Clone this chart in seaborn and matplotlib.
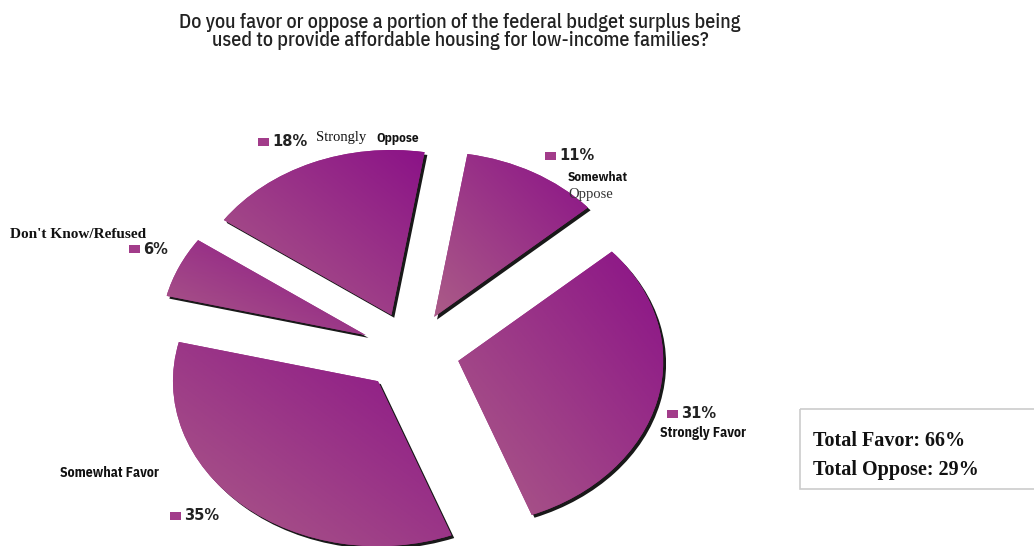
import numpy as np
import matplotlib
matplotlib.use("Agg")
import matplotlib.pyplot as plt
import matplotlib.patheffects as pe
from matplotlib.patches import Rectangle
import seaborn as sns

# ---- data ----
categories = ["Somewhat Oppose", "Strongly Favor", "Somewhat Favor",
              "Don't Know/Refused", "Strongly Oppose"]
values = [11, 31, 35, 6, 18]
favor_cats = ["Strongly Favor", "Somewhat Favor"]
oppose_cats = ["Strongly Oppose", "Somewhat Oppose"]
title = ("Do you favor or oppose a portion of the federal budget surplus being\n"
         "used to provide affordable housing for low-income families?")

sns.set_theme(style="white")
plt.rcParams['font.family'] = ['DejaVu Sans']

COND = ['IBM Plex Sans Condensed', 'DejaVu Sans']
SERIF = ['Liberation Serif', 'DejaVu Serif']

W, H = 1034, 546
fig = plt.figure(figsize=(W / 100, H / 100), dpi=100)
fig.patch.set_facecolor('white')

# pie geometry (pixels)
cx, cy = 410.5, 351.5
rx, ry = 205, 165
ax = fig.add_axes([0, 0, 1, 1])
wedges, _ = ax.pie(values, explode=[0.24] * len(values), startangle=80.7,
                   counterclock=False, radius=1,
                   wedgeprops=dict(linewidth=0, facecolor='#9a2f84'))
ax.set_aspect('auto')
xlim = (-cx / rx, (W - cx) / rx)
ylim = (-(H - cy) / ry, cy / ry)

cmap = sns.blend_palette(['#ab5c87', '#8b1287'], as_cmap=True)
g = np.linspace(0, 1, 200)
G = (g[None, :] + g[:, None]) / 2
for w in wedges:
    w.set_path_effects([pe.SimplePatchShadow(offset=(2.0, -2.0), shadow_rgbFace='black', alpha=0.9),
                        pe.Normal()])
    bb = w.get_path().get_extents()
    im = ax.imshow(G, cmap=cmap, extent=(bb.x0, bb.x1, bb.y0, bb.y1), origin='lower',
                   aspect='auto', zorder=3, interpolation='bilinear')
    im.set_clip_path(w)
ax.set_xlim(*xlim)
ax.set_ylim(*ylim)
ax.axis('off')

# ---- overlay for text (pixel coords) ----
ov = fig.add_axes([0, 0, 1, 1], zorder=5)
ov.set_xlim(0, W)
ov.set_ylim(H, 0)
ov.axis('off')
ov.patch.set_alpha(0)

ov.text(460, 31.5, title, ha='center', va='center', fontsize=14.4, family=COND,
        fontweight='medium', color='#222222', linespacing=1.0)

SQ = '#a23c8a'
vals = dict(zip(categories, values))

def pct(x, y, cat):
    ov.add_patch(Rectangle((x, y - 4.5), 11, 8, facecolor=SQ, edgecolor='none'))
    ov.text(x + 14, y, f"{vals[cat]}%", ha='left', va='center', fontsize=10.5,
            fontweight='bold', family=['DejaVu Sans'], color='#222222')

def name(x, y, s, serif=False, size=8, weight='bold', color='#111111'):
    ov.text(x, y, s, ha='left', va='center', fontsize=size, fontweight=weight,
            family=SERIF if serif else COND, color=color)

# Strongly Oppose
pct(258, 142, "Strongly Oppose")
name(316, 138, "Strongly", serif=True, size=10.5, weight='normal')
name(376, 138.5, "Oppose", size=9.5)
# Somewhat Oppose
pct(545, 156, "Somewhat Oppose")
name(568, 177.5, "Somewhat", size=9.5)
name(568, 194.5, "Oppose", serif=True, size=10.5, weight='normal', color='#333333')
# Don't Know
name(10, 234, "Don't Know/Refused", serif=True, size=11, weight='bold')
pct(129, 249, "Don't Know/Refused")
# Strongly Favor
pct(667, 414, "Strongly Favor")
name(660, 433, "Strongly Favor", size=10)
# Somewhat Favor
name(60, 473, "Somewhat Favor", size=10)
pct(170, 516, "Somewhat Favor")

# totals box
total_favor = sum(vals[c] for c in favor_cats)
total_oppose = sum(vals[c] for c in oppose_cats)
ov.add_patch(Rectangle((800, 409), 240, 80, fill=False, edgecolor='#cccccc', lw=1.2))
ov.text(813, 441.5, f"Total Favor: {total_favor}%", ha='left', va='center',
        fontsize=14.5, fontweight='bold', family=SERIF, color='#111111')
ov.text(813, 469.5, f"Total Oppose: {total_oppose}%", ha='left', va='center',
        fontsize=14.5, fontweight='bold', family=SERIF, color='#111111')

fig.savefig('out.png', dpi=100, facecolor='white')
